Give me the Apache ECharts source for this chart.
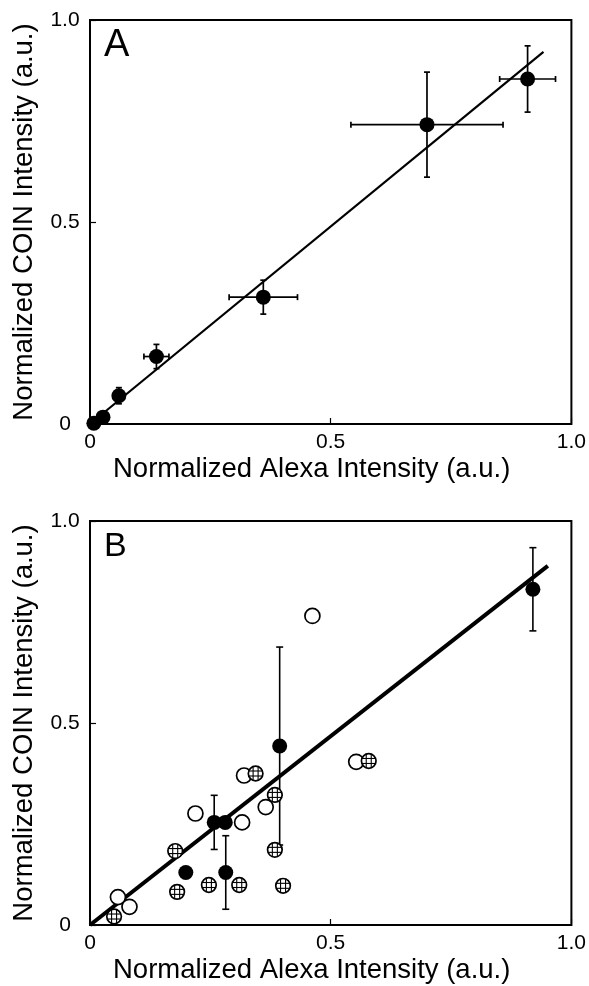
<!DOCTYPE html>
<html>
<head>
<meta charset="utf-8">
<script src="https://cdn.jsdelivr.net/npm/echarts@6/dist/echarts.min.js"></script>
<style>
html,body{margin:0;padding:0;background:#fff;}
#chart{width:589px;height:986px;}
</style>
</head>
<body>
<div id="chart"></div>
<script>
// ---- Panel A data ----
const aX = [0.008, 0.027, 0.060, 0.138, 0.360, 0.700, 0.909];
const aY = [0.002, 0.017, 0.070, 0.167, 0.314, 0.741, 0.854];
const aXErr = [0, 0, 0, 0.026, 0.071, 0.158, 0.058];
const aYErr = [0, 0.006, 0.020, 0.030, 0.042, 0.130, 0.082];
const aFitX = [0, 0.942];
const aFitY = [0, 0.921];

// ---- Panel B data ----
const bFilledX = [0.258, 0.281, 0.199, 0.282, 0.394, 0.920];
const bFilledY = [0.254, 0.254, 0.130, 0.130, 0.443, 0.831];
const bFilledErr = [0.067, 0, 0, 0.091, 0.245, 0.103];
const bOpenX = [0.320, 0.553, 0.219, 0.365, 0.316, 0.058, 0.082, 0.462];
const bOpenY = [0.370, 0.404, 0.276, 0.292, 0.254, 0.069, 0.045, 0.765];
const bHatchX = [0.344, 0.579, 0.384, 0.384, 0.177, 0.181, 0.247, 0.310, 0.401, 0.050];
const bHatchY = [0.375, 0.406, 0.322, 0.186, 0.183, 0.082, 0.099, 0.099, 0.097, 0.021];
const bFitX = [0, 0.951];
const bFitY = [0, 0.889];

// ---- Text ----
const xTitle = 'Normalized Alexa Intensity (a.u.)';
const yTitle = 'Normalized COIN Intensity (a.u.)';
const panelLabels = ['A', 'B'];

const FONT = '"Liberation Sans", Arial, sans-serif';
const zip = (xs, ys) => xs.map((x, i) => [x, ys[i]]);

function errRender(lw, cap) {
  return function (params, api) {
    const x = api.value(0), y = api.value(1), ex = api.value(2), ey = api.value(3);
    const children = [];
    const st = { stroke: '#000', lineWidth: lw };
    if (ey > 0) {
      const t = api.coord([x, y + ey]), b = api.coord([x, y - ey]);
      children.push({ type: 'line', shape: { x1: t[0], y1: t[1], x2: b[0], y2: b[1] }, style: st });
      children.push({ type: 'line', shape: { x1: t[0] - cap, y1: t[1], x2: t[0] + cap, y2: t[1] }, style: st });
      children.push({ type: 'line', shape: { x1: b[0] - cap, y1: b[1], x2: b[0] + cap, y2: b[1] }, style: st });
    }
    if (ex > 0) {
      const l = api.coord([x - ex, y]), r = api.coord([x + ex, y]);
      children.push({ type: 'line', shape: { x1: l[0], y1: l[1], x2: r[0], y2: r[1] }, style: st });
      children.push({ type: 'line', shape: { x1: l[0], y1: l[1] - cap, x2: l[0], y2: l[1] + cap }, style: st });
      children.push({ type: 'line', shape: { x1: r[0], y1: r[1] - cap, x2: r[0], y2: r[1] + cap }, style: st });
    }
    return { type: 'group', children };
  };
}

function hatchRender(params, api) {
  const c = api.coord([api.value(0), api.value(1)]);
  const r = 7.3;
  const d = 2.5;
  const h = Math.sqrt(r * r - d * d);
  const st = { stroke: '#000', lineWidth: 1.1 };
  return {
    type: 'group',
    children: [
      { type: 'circle', shape: { cx: c[0], cy: c[1], r: r }, style: { fill: '#fff', stroke: '#000', lineWidth: 1.7 } },
      { type: 'line', shape: { x1: c[0] - d, y1: c[1] - h, x2: c[0] - d, y2: c[1] + h }, style: st },
      { type: 'line', shape: { x1: c[0] + d, y1: c[1] - h, x2: c[0] + d, y2: c[1] + h }, style: st },
      { type: 'line', shape: { x1: c[0] - h, y1: c[1] - d, x2: c[0] + h, y2: c[1] - d }, style: st },
      { type: 'line', shape: { x1: c[0] - h, y1: c[1] + d, x2: c[0] + h, y2: c[1] + d }, style: st }
    ]
  };
}

function xAxis(gi) {
  return {
    type: 'value', gridIndex: gi, min: 0, max: 1, interval: 0.5,
    name: xTitle, nameLocation: 'middle', nameGap: 31,
    nameTextStyle: { fontFamily: FONT, fontSize: 27.5, color: '#000', padding: [0, 38, 0, 0] },
    axisLine: { show: false },
    axisTick: { show: true, inside: true, length: 6, lineStyle: { color: '#000', width: 1.2 } },
    axisLabel: { fontFamily: FONT, fontSize: 21, color: '#000', margin: 8,
      formatter: v => v === 0 ? '0' : v.toFixed(1) },
    splitLine: { show: false }
  };
}
function yAxis(gi) {
  return {
    type: 'value', gridIndex: gi, min: 0, max: 1, interval: 0.5,
    name: yTitle, nameLocation: 'middle', nameGap: 52,
    nameTextStyle: { fontFamily: FONT, fontSize: 27.5, color: '#000' },
    axisLine: { show: false },
    axisTick: { show: true, inside: true, length: 6, lineStyle: { color: '#000', width: 1.2 } },
    axisLabel: { fontFamily: FONT, fontSize: 21, color: '#000', margin: 25, align: 'center',
      formatter: v => v === 0 ? '0' : v.toFixed(1) },
    splitLine: { show: false }
  };
}

const chart = echarts.init(document.getElementById('chart'), null, { renderer: 'canvas' });
chart.setOption({
  animation: false,
  backgroundColor: '#fff',
  grid: [
    { left: 90, top: 20, width: 486, height: 404, show: true, borderColor: '#000', borderWidth: 2, backgroundColor: 'transparent' },
    { left: 90, top: 521, width: 486, height: 404, show: true, borderColor: '#000', borderWidth: 2, backgroundColor: 'transparent' }
  ],
  xAxis: [xAxis(0), xAxis(1)],
  yAxis: [yAxis(0), yAxis(1)],
  graphic: [
    { type: 'text', left: 104, top: 27, style: { text: panelLabels[0], font: '38px ' + FONT, fill: '#000' } },
    { type: 'text', left: 104, top: 530, style: { text: panelLabels[1], font: '34px ' + FONT, fill: '#000' } }
  ],
  series: [
    // Panel A
    { type: 'line', xAxisIndex: 0, yAxisIndex: 0, data: zip(aFitX, aFitY), symbol: 'none',
      lineStyle: { color: '#000', width: 2.2 }, z: 1 },
    { type: 'custom', xAxisIndex: 0, yAxisIndex: 0, renderItem: errRender(1.7, 3),
      data: aX.map((x, i) => [x, aY[i], aXErr[i], aYErr[i]]), z: 2 },
    { type: 'scatter', xAxisIndex: 0, yAxisIndex: 0, data: zip(aX, aY), symbol: 'circle', symbolSize: 15,
      itemStyle: { color: '#000', opacity: 1 }, z: 3 },
    // Panel B
    { type: 'line', xAxisIndex: 1, yAxisIndex: 1, data: zip(bFitX, bFitY), symbol: 'none',
      lineStyle: { color: '#000', width: 4 }, z: 1 },
    { type: 'custom', xAxisIndex: 1, yAxisIndex: 1, renderItem: errRender(1.6, 3.5),
      data: bFilledX.map((x, i) => [x, bFilledY[i], 0, bFilledErr[i]]), z: 2 },
    { type: 'scatter', xAxisIndex: 1, yAxisIndex: 1, data: zip(bOpenX, bOpenY), symbol: 'circle', symbolSize: 15,
      itemStyle: { color: '#fff', borderColor: '#000', borderWidth: 1.7, opacity: 1 }, z: 3 },
    { type: 'custom', xAxisIndex: 1, yAxisIndex: 1, renderItem: hatchRender,
      data: zip(bHatchX, bHatchY), z: 4 },
    { type: 'scatter', xAxisIndex: 1, yAxisIndex: 1, data: zip(bFilledX, bFilledY), symbol: 'circle', symbolSize: 15,
      itemStyle: { color: '#000', opacity: 1 }, z: 5 }
  ]
});
</script>
</body>
</html>
